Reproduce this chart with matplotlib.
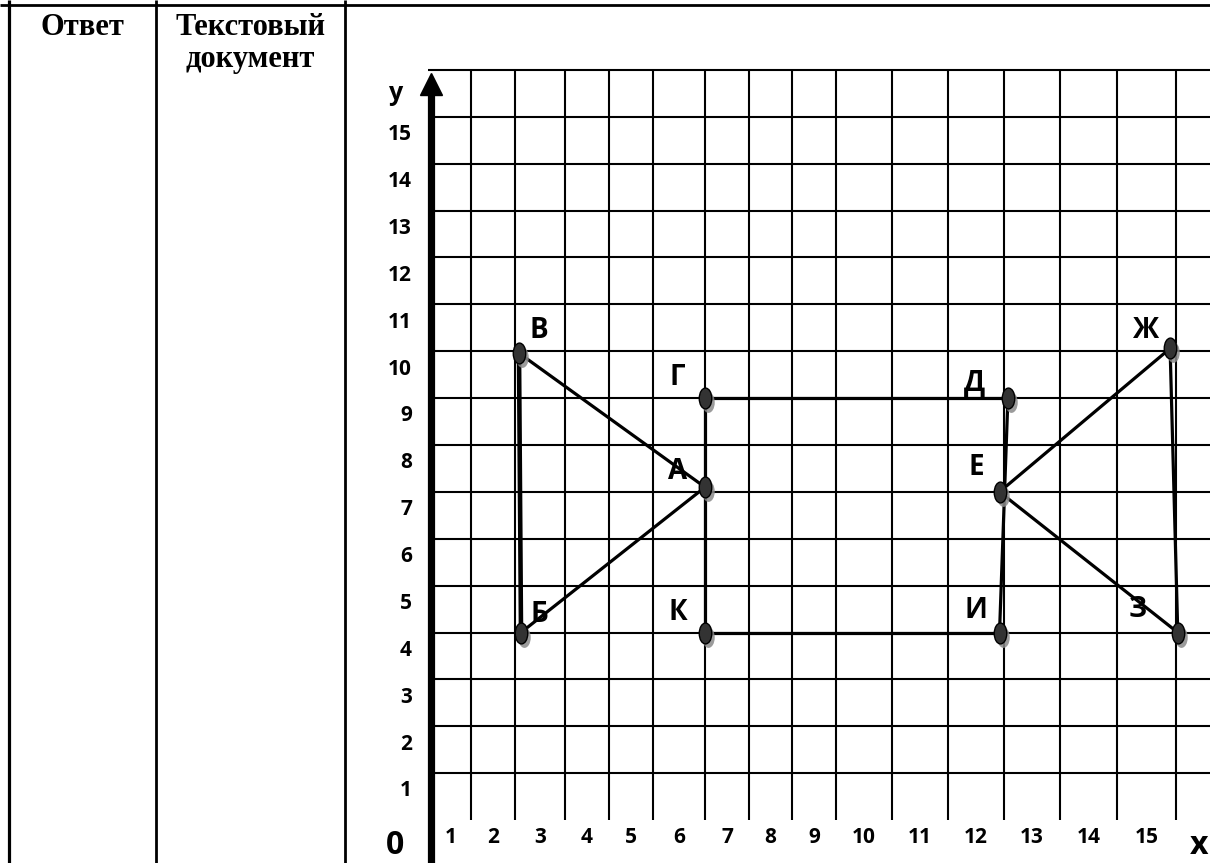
import numpy as np
import matplotlib
matplotlib.use('Agg')
import matplotlib.pyplot as plt
from matplotlib.path import Path
from matplotlib.transforms import Affine2D, offset_copy

# table header
header_left = 'Ответ'
header_right = ['Текстовый', 'документ']

# numbers along the axes
x_ticks = list(range(1, 16))
y_ticks = list(range(1, 16))

# vertices of the drawing, in grid units
pt_names = ['А', 'Б', 'В', 'Г', 'Д', 'Е', 'Ж', 'З', 'И', 'К']
pt_x = [6.0, 2.12, 2.08, 6.0, 12.07, 11.92, 14.9, 15.03, 11.92, 6.0]
pt_y = [7.1, 4.0, 9.96, 9.0, 9.0, 7.0, 10.06, 4.0, 4.0, 4.0]

# which vertices are joined
segments = [('В', 'Б'), ('В', 'А'), ('А', 'Б'), ('Г', 'К'), ('Г', 'Д'),
            ('К', 'И'), ('Д', 'И'), ('Е', 'Ж'), ('Е', 'З'), ('Ж', 'З')]

# ---- layout (pixels) ----
W, H = 1210, 863
# the hand drawn grid is not even: pixel column of each vertical line 0..15
col_px = np.array([431, 471, 515, 565, 609, 653, 705, 749, 792, 836,
                   892, 948, 1004, 1060, 1117, 1176], float)
col_idx = np.arange(len(col_px), dtype=float)
row = 46.875          # px per unit in y
y0_px = 820           # pixel row of y = 0


def fwd(x):
    x = np.asarray(x, float)
    lo = col_px[0] + x * (col_px[1] - col_px[0])
    hi = col_px[-1] + (x - col_idx[-1]) * (col_px[-1] - col_px[-2])
    return np.where(x < 0, lo, np.where(x > col_idx[-1], hi, np.interp(x, col_idx, col_px)))


def inv(p):
    p = np.asarray(p, float)
    lo = (p - col_px[0]) / (col_px[1] - col_px[0])
    hi = col_idx[-1] + (p - col_px[-1]) / (col_px[-1] - col_px[-2])
    return np.where(p < col_px[0], lo, np.where(p > col_px[-1], hi, np.interp(p, col_px, col_idx)))


sans = ['Open Sans', 'Noto Sans', 'DejaVu Sans']
serif = ['Liberation Serif', 'DejaVu Serif']

fig = plt.figure(figsize=(W / 100, H / 100), dpi=100)

# table frame
tab = fig.add_axes([0, 0, 1, 1])
tab.set_xlim(0, W)
tab.set_ylim(H, 0)
tab.axis('off')
tab.plot([9, 9], [0, H], color='k', lw=2.3, solid_capstyle='butt')
for xv in [155.5, 345]:
    tab.plot([xv, xv], [0, H], color='k', lw=2.0, solid_capstyle='butt')
tab.plot([0, W], [5, 5], color='k', lw=2.0, solid_capstyle='butt')
tab.text(82, 35, header_left, ha='center', va='baseline', fontsize=22,
         fontweight='bold', family=serif)
tab.text(250, 35, header_right[0], ha='center', va='baseline', fontsize=22,
         fontweight='bold', family=serif)
tab.text(250, 67, header_right[1], ha='center', va='baseline', fontsize=22,
         fontweight='bold', family=serif)

# coordinate grid
ax = fig.add_axes([0, 0, 1, 1])
ax.patch.set_alpha(0)
ax.set_xscale('function', functions=(fwd, inv))
ax.set_xlim(float(inv(0)), float(inv(W)))
ax.set_ylim(-(H - y0_px) / row, y0_px / row)
ax.axis('off')

ax.vlines(x_ticks, 0, 16, color='k', lw=1.5, zorder=1)
ax.hlines(range(1, 17), -0.08, float(inv(W)), color='k', lw=1.5, zorder=1)

# y axis with arrow head
ax.plot([0, 0], [-(H - y0_px) / row, 15.5], color='k', lw=5.2,
        solid_capstyle='butt', zorder=3)
ax.plot([0], [15.7], marker='^', ms=16, color='k', zorder=3)

# tick numbers
for k in y_ticks:
    ax.annotate(str(k), xy=(0, k - 0.38), xytext=(-19, 0), textcoords='offset pixels',
                ha='right', va='center', fontsize=15, fontweight='bold', family=sans)
for k in x_ticks:
    ax.text(k - 0.5, -0.38, str(k), ha='center', va='center',
            fontsize=15, fontweight='bold', family=sans)
ax.annotate('0', xy=(0, 0), xytext=(-36, -42), textcoords='offset pixels',
            ha='center', va='bottom', fontsize=23, fontweight='bold', family=sans)
ax.annotate('x', xy=(15, 0), xytext=(23, -42), textcoords='offset pixels',
            ha='center', va='bottom', fontsize=23, fontweight='bold', family=sans)
ax.annotate('y', xy=(0, 16), xytext=(-35, -24), textcoords='offset pixels',
            ha='center', va='center', fontsize=18, fontweight='bold', family=sans)

# the figure itself
pts = {n: (x, y) for n, x, y in zip(pt_names, pt_x, pt_y)}
for a, b in segments:
    lw = 3.3 if (a, b) == ('В', 'Б') else 2.3
    ax.plot([pts[a][0], pts[b][0]], [pts[a][1], pts[b][1]], color='k', lw=lw,
            solid_capstyle='butt', zorder=4)

ell = Path.unit_circle().transformed(Affine2D().scale(0.6, 1.0))
shadow = offset_copy(ax.transData, fig=fig, x=3, y=-4, units='dots')
ax.plot(pt_x, pt_y, ls='none', marker=ell, ms=15, mfc='#8a8a8a', mec='none',
        alpha=0.85, transform=shadow, zorder=5)
ax.plot(pt_x, pt_y, ls='none', marker=ell, ms=15, mfc='#333333', mec='k',
        mew=1.0, zorder=6)

lab_off = {'В': (20, 23), 'Г': (-28, 21), 'А': (-27, 16), 'Б': (18, 18),
           'К': (-27, 20), 'Д': (-33, 15), 'Е': (-23, 24), 'И': (-24, 22),
           'Ж': (-24, 18), 'З': (-40, 23)}
for n in pt_names:
    ax.annotate(n, xy=pts[n], xytext=lab_off[n], textcoords='offset pixels',
                ha='center', va='center', fontsize=20, fontweight='bold',
                family=sans, zorder=7)

fig.savefig('out.png', dpi=100)
